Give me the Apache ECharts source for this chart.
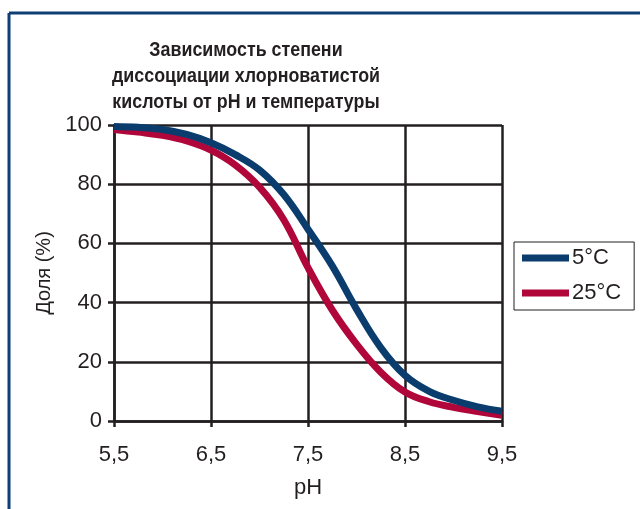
<!DOCTYPE html>
<html>
<head>
<meta charset="utf-8">
<script src="https://cdn.jsdelivr.net/npm/echarts@6/dist/echarts.min.js"></script>
<style>
html,body{margin:0;padding:0;background:#fff;}
#c{width:640px;height:509px;}
</style>
</head>
<body>
<div id="c"></div>
<script>
const titleText = 'Зависимость степени\nдиссоциации хлорноватистой\nкислоты от pH и температуры';
const seriesNames = ['5°C', '25°C'];
const phValues = [5.5, 5.75, 6.0, 6.25, 6.5, 6.75, 7.0, 7.25, 7.5, 7.75, 8.0, 8.25, 8.5, 8.75, 9.0, 9.25, 9.5];
const temp5 =  [99.5, 99.2, 98.5, 96.8, 94.0, 90.0, 84.8, 76.5, 64.8, 52.4, 37.8, 24.8, 15.4, 10.0, 7.0, 4.8, 3.3];
const temp25 = [98.5, 97.6, 96.5, 94.6, 91.5, 86.5, 79.0, 68.0, 51.8, 37.5, 26.0, 16.5, 9.8, 6.5, 4.6, 3.2, 1.9];
const xTicks = ['5,5', '6,5', '7,5', '8,5', '9,5'];
const yTicks = [0, 20, 40, 60, 80, 100];

const gridColor = '#231f20';
const font = 'Liberation Sans, Arial, sans-serif';

const chart = echarts.init(document.getElementById('c'), null, {renderer: 'canvas'});
chart.setOption({
  backgroundColor: '#ffffff',
  animation: false,
  graphic: [
    {type: 'line', shape: {x1: 9, y1: 13, x2: 640, y2: 13}, style: {stroke: '#0e3f74', lineWidth: 3}},
    {type: 'line', shape: {x1: 9, y1: 13, x2: 9, y2: 509}, style: {stroke: '#0e3f74', lineWidth: 3}},
    {
      type: 'text', x: 246, y: 37, scaleX: 0.85,
      style: {
        text: titleText, x: 0, y: 0, align: 'center', verticalAlign: 'top',
        font: 'bold 21px "Liberation Sans", Arial, sans-serif', lineHeight: 26, fill: '#231f20'
      }
    }
  ],
  legend: {
    orient: 'vertical',
    left: 514,
    top: 242,
    padding: [5, 13, 6, 8],
    itemGap: 13,
    itemWidth: 47,
    itemHeight: 7,
    borderColor: '#231f20',
    borderWidth: 1,
    icon: 'rect',
    data: seriesNames,
    textStyle: {fontFamily: font, fontSize: 22, color: '#231f20', padding: [0, 0, 0, -2]}
  },
  grid: {left: 114, right: 138, top: 125, bottom: 88, containLabel: false},
  xAxis: {
    type: 'value',
    min: 5.5, max: 9.5, interval: 1,
    name: 'pH',
    nameLocation: 'middle',
    nameGap: 56,
    nameTextStyle: {fontFamily: font, fontSize: 22, color: '#231f20'},
    axisLine: {show: true, lineStyle: {color: gridColor, width: 2.5}},
    axisTick: {show: true, inside: false, length: 6, lineStyle: {color: gridColor, width: 2.5}},
    splitLine: {show: true, lineStyle: {color: gridColor, width: 2.5}},
    axisLabel: {
      margin: 23, fontFamily: font, fontSize: 22, color: '#231f20',
      formatter: function (v) {
        const idx = Math.round(v - 5.5);
        return xTicks[idx] !== undefined ? xTicks[idx] : '';
      }
    }
  },
  yAxis: {
    type: 'value',
    min: 0, max: 100, interval: 20,
    name: 'Доля (%)',
    nameLocation: 'middle',
    nameGap: 60,
    nameTextStyle: {fontFamily: font, fontSize: 20, color: '#231f20'},
    axisLine: {show: true, lineStyle: {color: gridColor, width: 2.5}},
    axisTick: {show: true, inside: false, length: 6, lineStyle: {color: gridColor, width: 2.5}},
    splitLine: {show: true, lineStyle: {color: gridColor, width: 2.5}},
    axisLabel: {
      margin: 12, fontFamily: font, fontSize: 22, color: '#231f20',
      formatter: function (v) { return yTicks.indexOf(v) >= 0 ? String(v) : ''; }
    }
  },
  series: [
    {
      name: seriesNames[0], type: 'line', smooth: 0.4, symbol: 'none',
      data: phValues.map((x, i) => [x, temp5[i]]),
      lineStyle: {color: '#0a3d6e', width: 7},
      itemStyle: {color: '#0a3d6e'},
      z: 3
    },
    {
      name: seriesNames[1], type: 'line', smooth: 0.4, symbol: 'none',
      data: phValues.map((x, i) => [x, temp25[i]]),
      lineStyle: {color: '#b0063a', width: 7},
      itemStyle: {color: '#b0063a'},
      z: 2
    }
  ]
});
</script>
</body>
</html>
